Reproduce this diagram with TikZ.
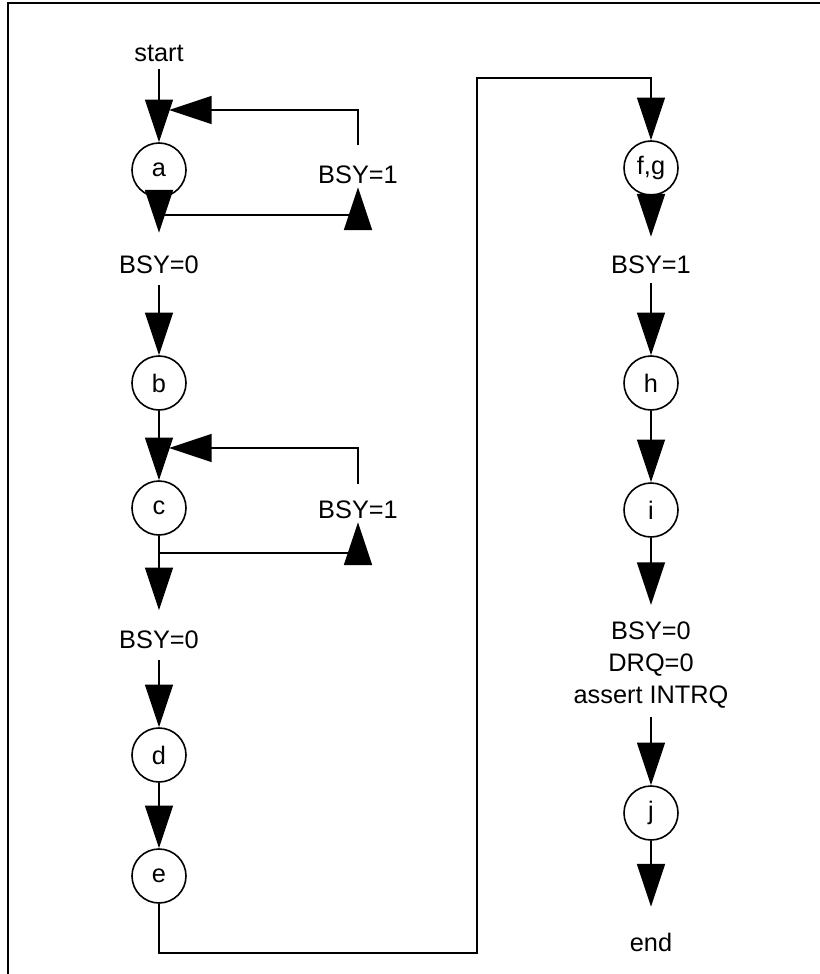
\documentclass[tikz,border=0pt]{standalone}
\usepackage{fontspec}
\setmainfont{Liberation Sans}
\usepackage{tikz}
\usetikzlibrary{arrows.meta}

\begin{document}
\begin{tikzpicture}[
    x=0.75pt, y=-0.75pt,
    font=\fontsize{19}{24}\selectfont,
    line width=1.2pt,
    >={Triangle[length=32pt, width=21pt]},
    state/.style={draw=black, circle, minimum size=40.5pt, inner sep=0pt},
    txt/.style={align=center, inner sep=2pt}
  ]
    \useasboundingbox (0,0) rectangle (820,974);
    \draw[line width=1.5pt] (8,974) -- (8,3) -- (820,3);

    % left column
    \node[txt] (start) at (159,53) {start};
    \node[state] (a) at (159,170) {a};
    \node[txt] (bsy1a) at (358,175) {BSY=1};
    \node[txt] (bsy0a) at (159,265) {BSY=0};
    \node[state] (b) at (159,383) {b};
    \node[state] (c) at (159,508) {c};
    \node[txt] (bsy1c) at (358,510) {BSY=1};
    \node[txt] (bsy0c) at (159,640) {BSY=0};
    \node[state] (d) at (159,755) {d};
    \node[state] (e) at (159,876) {e};
    \coordinate (ina) at (169,110);
    \coordinate (outa) at (159,215);
    \coordinate (inc) at (169,448);
    \coordinate (outc) at (159,553);
    \coordinate (jb) at (477,953);
    \coordinate (jt) at (651,78);

    % right column
    \node[state] (fg) at (651,168) {f,g};
    \node[txt] (bsy1r) at (651,265) {BSY=1};
    \node[state] (h) at (651,383) {h};
    \node[state] (i) at (651,510) {i};
    \node[txt] (done) at (651,665) {BSY=0\\DRQ=0\\assert INTRQ};
    \node[state] (j) at (651,813) {j};
    \node[txt] (end) at (651,942) {end};

    \draw[->, shorten <=3pt] (start) -- (a);
    \draw[->, shorten <=13pt] (bsy1a.north) |- (ina);
    \draw[->, shorten >=15pt] (a) -- (bsy0a);
    \draw[->] (outa) -| (bsy1a.south);
    \draw[->, shorten <=6pt] (bsy0a) -- (b);
    \draw[->] (b) -- (c);
    \draw[->, shorten <=10pt] (bsy1c.north) |- (inc);
    \draw[->, shorten >=13pt] (c) -- (bsy0c);
    \draw[->] (outc) -| (bsy1c.south);
    \draw[->, shorten <=6pt] (bsy0c) -- (d);
    \draw[->] (d) -- (e);
    \draw[->] (e) |- (jb) |- (jt) -- (fg);

    \draw[->, shorten >=12pt] (fg) -- (bsy1r);
    \draw[->, shorten <=4pt] (bsy1r) -- (h);
    \draw[->] (h) -- (i);
    \draw[->, shorten >=10pt] (i) -- (done);
    \draw[->, shorten <=4pt] (done) -- (j);
    \draw[->, shorten >=17pt] (j) -- (end);
  \end{tikzpicture}
\end{document}
